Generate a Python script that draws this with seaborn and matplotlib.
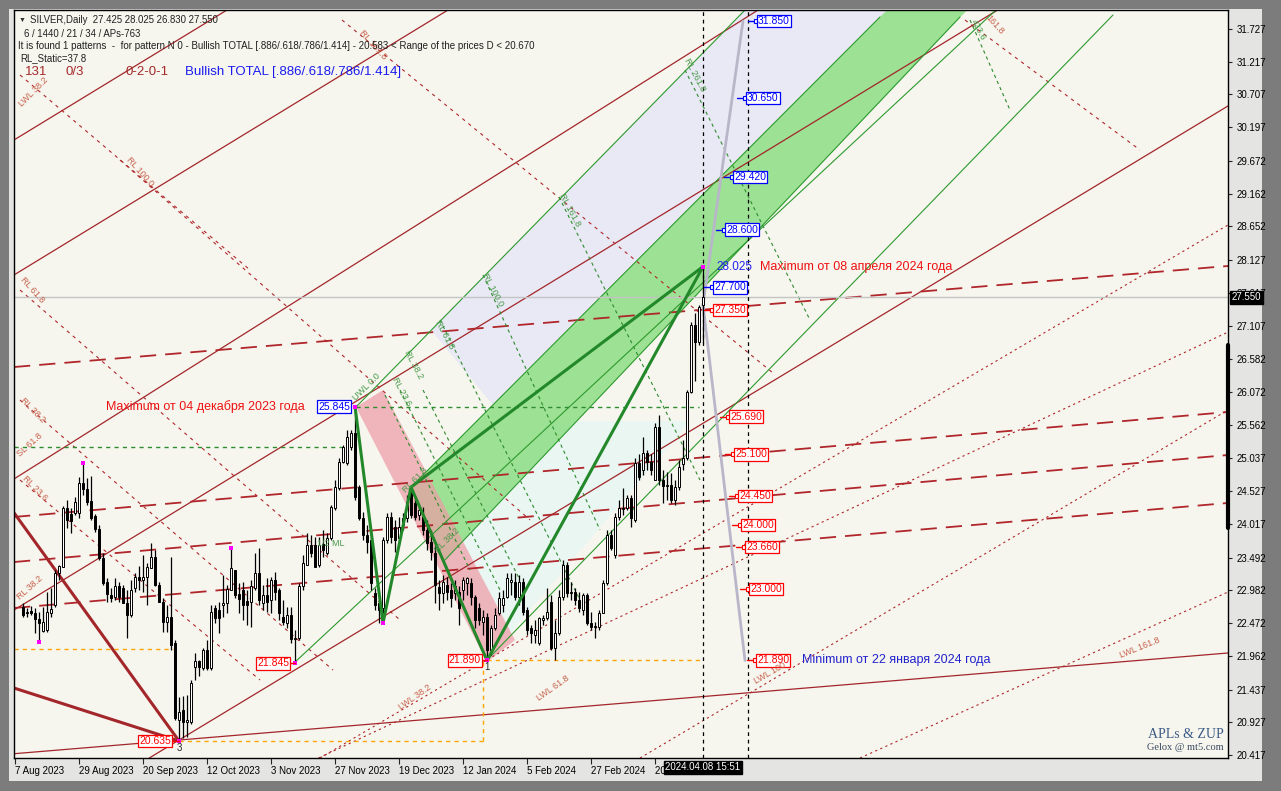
import numpy as np
import pandas as pd
import matplotlib
matplotlib.use("Agg")
import matplotlib.pyplot as plt
import matplotlib.transforms as mtransforms
from matplotlib.patches import Polygon, Rectangle
import seaborn as sns

# SILVER daily candles, bar index 0 .. 170 (last bar = 2024.04.08)
opens = [22.72, 22.65, 22.66, 22.63, 22.54, 22.35, 22.36, 22.63, 22.75, 23.25,
         23.35, 24.27, 24.17, 24.19, 24.19, 24.65, 24.56, 24.37, 24.14, 23.94,
         23.49, 23.11, 22.91, 22.88, 23.05, 23.02, 22.78, 22.60, 23.02, 23.19,
         23.14, 23.19, 23.33, 23.50, 23.06, 22.80, 22.49, 22.57, 22.16, 20.96,
         21.12, 20.93, 20.93, 21.79, 21.88, 21.77, 22.05, 21.77, 22.71, 22.68,
         22.75, 22.78, 22.99, 23.30, 22.93, 22.99, 22.82, 22.80, 23.02, 23.25,
         22.78, 22.91, 22.83, 23.14, 22.99, 22.57, 22.47, 22.60, 22.22, 22.24,
         23.05, 23.38, 23.69, 23.69, 23.38, 23.70, 23.56, 23.80, 24.27, 24.58,
         24.98, 24.97, 25.21, 25.43, 24.59, 24.11, 23.84, 23.77, 22.94, 22.78,
         22.71, 23.77, 24.13, 23.97, 23.80, 24.00, 24.11, 24.50, 24.34, 24.16,
         24.13, 23.92, 23.74, 23.56, 23.03, 22.94, 23.06, 22.99, 22.94, 22.96,
         22.99, 23.10, 23.10, 22.88, 22.71, 22.49, 22.57, 22.05, 22.40, 22.63,
         22.75, 22.88, 23.11, 23.11, 22.88, 23.11, 22.68, 22.40, 22.29, 22.16,
         22.52, 22.55, 22.80, 22.08, 22.32, 22.88, 23.38, 22.94, 22.96, 22.83,
         22.68, 22.91, 22.47, 22.41, 22.41, 22.63, 23.10, 23.84, 23.53, 24.13,
         24.25, 24.27, 24.42, 24.08, 24.97, 24.86, 25.12, 24.98, 24.70, 25.53,
         24.70, 24.61, 24.62, 24.39, 24.59, 24.95, 25.04, 26.07, 27.11, 26.85,
         27.425]
highs = [22.78, 22.71, 22.74, 22.71, 22.65, 22.72, 22.96, 23.02, 23.30, 23.38,
         24.30, 24.39, 24.27, 24.44, 24.75, 24.97, 24.73, 24.76, 24.17, 24.00,
         23.56, 23.17, 23.02, 23.17, 23.11, 23.06, 22.99, 23.14, 23.25, 23.36,
         23.53, 23.41, 23.72, 23.61, 23.11, 22.86, 22.75, 23.50, 22.21, 21.32,
         21.34, 21.35, 21.59, 22.01, 21.90, 22.08, 22.21, 22.75, 22.75, 22.80,
         23.22, 23.06, 23.64, 23.30, 23.10, 23.11, 22.99, 23.14, 23.56, 23.64,
         23.06, 23.17, 23.19, 23.27, 23.02, 22.83, 22.72, 22.72, 22.36, 23.10,
         23.53, 23.88, 23.84, 23.81, 23.81, 23.92, 23.88, 24.31, 24.70, 25.04,
         25.25, 25.48, 25.48, 25.845, 24.62, 24.20, 24.00, 23.81, 23.02, 22.83,
         23.81, 24.19, 24.20, 24.08, 24.13, 24.19, 24.47, 24.58, 24.44, 24.31,
         24.28, 24.08, 23.92, 23.69, 23.14, 23.22, 23.19, 23.10, 23.14, 23.05,
         23.19, 23.19, 23.17, 22.91, 22.78, 22.68, 22.63, 22.44, 22.71, 22.96,
         22.99, 23.25, 23.25, 23.25, 23.22, 23.17, 22.72, 22.44, 22.52, 22.57,
         22.60, 23.02, 22.91, 22.52, 22.99, 23.46, 23.42, 23.11, 23.02, 22.96,
         22.94, 22.94, 22.65, 22.49, 22.68, 23.14, 23.92, 23.92, 24.19, 24.39,
         24.58, 24.47, 24.47, 25.04, 25.10, 25.37, 25.17, 25.10, 25.59, 25.71,
         24.86, 24.83, 24.81, 24.70, 25.01, 25.32, 26.10, 27.16, 27.30, 27.43,
         28.025]
lows = [22.57, 22.57, 22.60, 22.32, 22.18, 22.33, 22.33, 22.57, 22.72, 23.14,
        23.35, 23.95, 23.88, 24.16, 24.11, 24.47, 24.31, 24.08, 23.89, 23.46,
        23.06, 22.80, 22.80, 22.83, 22.80, 22.78, 22.24, 22.57, 22.96, 22.99,
        22.96, 22.75, 23.33, 23.05, 22.80, 22.33, 22.33, 22.05, 20.96, 20.635,
        20.68, 20.70, 20.90, 21.59, 21.65, 21.74, 21.74, 21.74, 22.47, 22.32,
        22.57, 22.63, 22.99, 22.86, 22.63, 22.52, 22.44, 22.41, 22.99, 22.75,
        22.68, 22.65, 22.63, 22.83, 22.52, 22.44, 22.40, 22.16, 21.845, 22.21,
        22.99, 23.38, 23.50, 23.35, 23.35, 23.50, 23.53, 23.77, 24.23, 24.55,
        24.97, 24.94, 25.17, 24.39, 24.08, 23.77, 23.56, 22.99, 22.68, 22.47,
        22.47, 23.72, 23.72, 23.58, 23.69, 23.92, 24.05, 24.11, 24.08, 24.08,
        23.84, 23.61, 23.46, 22.78, 22.68, 22.78, 22.83, 22.72, 22.83, 22.44,
        22.83, 22.91, 22.75, 22.40, 22.44, 22.29, 21.89, 21.97, 22.36, 22.60,
        22.65, 22.86, 22.91, 22.83, 22.75, 22.60, 22.29, 22.16, 22.16, 22.13,
        22.44, 22.52, 22.05, 21.90, 22.29, 22.83, 22.88, 22.83, 22.75, 22.65,
        22.60, 22.44, 22.36, 22.24, 22.36, 22.63, 23.06, 23.61, 23.49, 24.08,
        24.16, 24.23, 23.97, 24.05, 24.70, 24.78, 24.86, 24.78, 24.70, 24.62,
        24.34, 24.39, 24.34, 24.31, 24.55, 24.86, 25.01, 26.06, 26.25, 26.80,
        26.83]
closes = [22.60, 22.63, 22.63, 22.54, 22.47, 22.49, 22.65, 22.69, 23.25, 23.36,
          24.27, 24.08, 24.06, 24.36, 24.65, 24.56, 24.36, 24.11, 23.94, 23.49,
          23.10, 22.93, 22.86, 23.05, 22.88, 22.78, 22.60, 22.99, 23.19, 23.14,
          23.19, 23.35, 23.50, 23.06, 22.80, 22.49, 22.57, 22.13, 20.99, 21.09,
          20.93, 20.96, 21.54, 21.88, 21.79, 22.05, 21.77, 22.65, 22.55, 22.55,
          22.78, 23.00, 23.33, 22.91, 22.85, 22.75, 22.75, 23.05, 23.25, 22.83,
          22.91, 22.80, 23.14, 22.96, 22.63, 22.49, 22.60, 22.22, 22.24, 23.05,
          23.41, 23.69, 23.56, 23.35, 23.69, 23.61, 23.80, 24.28, 24.59, 24.98,
          25.21, 25.37, 25.43, 24.44, 24.11, 23.84, 23.74, 23.10, 22.75, 22.68,
          23.77, 24.13, 23.81, 23.77, 23.97, 24.11, 24.36, 24.16, 24.13, 24.23,
          23.92, 23.72, 23.58, 23.06, 22.94, 23.11, 22.96, 22.86, 23.05, 22.71,
          23.14, 23.17, 22.88, 22.52, 22.52, 22.57, 22.05, 22.40, 22.60, 22.86,
          22.86, 23.17, 23.14, 22.88, 23.11, 22.65, 22.36, 22.32, 22.36, 22.55,
          22.55, 22.65, 22.08, 22.32, 22.88, 23.38, 22.94, 22.96, 22.83, 22.71,
          22.91, 22.47, 22.41, 22.43, 22.63, 23.10, 23.84, 23.64, 24.13, 24.27,
          24.27, 24.42, 24.11, 24.97, 24.75, 25.12, 24.98, 24.86, 25.53, 24.70,
          24.61, 24.62, 24.39, 24.59, 24.90, 25.04, 26.07, 27.11, 26.85, 27.40,
          27.55]

date_bars = [-2, 14, 30, 46, 62, 78, 94, 110, 126, 142, 158]
date_labels = ["7 Aug 2023", "29 Aug 2023", "20 Sep 2023", "12 Oct 2023", "3 Nov 2023",
               "27 Nov 2023", "19 Dec 2023", "12 Jan 2024", "5 Feb 2024", "27 Feb 2024",
               "20 Mar 2024"]
price_ticks = [31.727, 31.217, 30.707, 30.197, 29.672, 29.162, 28.652, 28.127, 27.617,
               27.107, 26.582, 26.072, 25.562, 25.037, 24.527, 24.017, 23.492, 22.982,
               22.472, 21.962, 21.437, 20.927, 20.417]

# ZUP pattern X-A-B-C-D (bar, price)
zz_bar = [83, 90, 97, 116, 170]
zz_price = [25.845, 22.47, 24.59, 21.89, 28.025]
bd_bar = [97, 170]
bd_price = [24.59, 28.025]

# pivots marked with magenta dots
piv_bar = [4, 15, 39, 52, 68, 83, 90, 116, 170]
piv_price = [22.18, 24.97, 20.635, 23.64, 21.845, 25.845, 22.47, 21.89, 28.025]

# channel / fan lines given as two anchors (bar, price)
red_solid = [((39, 20.65), (301.25, 30.528)),
             ((-2.25, 22.676), (228.5, 31.447)),
             ((-2.25, 24.717), (181, 31.914)),
             ((-2.25, 27.895), (106.25, 32.023)),
             ((-2.25, 29.998), (51, 32.023)),
             ((39, 20.65), (301.25, 22.006))]
red_long_dash = [((-2.25, 26.461), (301.25, 28.035)),
                 ((-2.25, 24.125), (301.25, 25.760)),
                 ((-2.25, 23.423), (301.25, 25.090)),
                 ((-2.25, 22.707), (301.25, 24.343))]
red_dotted = [((116, 21.897), (301.25, 28.674)),
              ((119.25, 21.694), (174.25, 23.299)),
              ((154.25, 20.370), (301.25, 25.792)),
              ((209.25, 20.370), (301.25, 22.956))]
red_rl = [((-0.75, 25.947), (77.5, 21.741)),
          ((-0.75, 27.661), (94.25, 22.520)),
          ((24.25, 29.686), (126.75, 24.078)),
          ((-0.75, 24.701), (59.25, 21.585)),
          ((79.75, 31.867), (187.5, 26.368)),
          ((235.5, 31.867), (279.25, 29.842)),
          ((-0.75, 31.011), (56.75, 27.973))]
green_rl = [((165.5, 31.088), (196.75, 27.194)),
            ((134, 29.110), (169.25, 24.701)),
            ((115, 27.895), (144.25, 23.922)),
            ((104.25, 27.194), (139.25, 22.832)),
            ((100, 26.103), (124.25, 23.143)),
            ((94.25, 26.103), (119.25, 22.987)),
            ((90.5, 26.025), (111.75, 23.299)),
            ((236.75, 31.867), (246.75, 30.465))]
# rays: start anchor -> end at top of chart
green_thin = [((67.75, 21.850), (243.25, 32.023)),
              ((116, 21.897), (272.5, 31.945)),
              ((83.25, 25.838), (180.5, 32.023)),
              ((96.75, 24.576), (214.25, 31.914)),
              ((105.5, 23.455), (234.25, 31.914))]

green_band = [(96.75, 24.576), (216.75, 32.07), (236.75, 32.07), (105.5, 23.455)]
lilac_band = [(102, 27.038), (181.25, 32.07), (216.75, 32.07), (117.5, 25.869)]
cyan_band = [(116, 21.897), (166.9, 25.62), (131.5, 25.62), (105.5, 23.455)]
pink_band = [(83.25, 25.838), (90, 26.103), (123, 22.208), (116, 21.866)]

# target / level boxes on the right
blue_levels = [31.85, 30.65, 29.42, 28.60, 27.70]
blue_box_bar = [183.75, 181.0, 177.75, 175.75, 172.75]
red_levels = [27.35, 25.69, 25.10, 24.45, 24.00, 23.66, 23.00, 21.89]
red_box_bar = [172.75, 176.75, 178.0, 179.0, 179.75, 180.75, 181.75, 183.5]

W, H = 1281, 791
sns.set_theme(style="white")
plt.rcParams["font.family"] = ["Liberation Sans", "DejaVu Sans"]

fig = plt.figure(figsize=(W / 100, H / 100), dpi=100, facecolor="#7c7c7c")
fig.patches.append(Rectangle((9 / W, 1 - 781 / H), (1262 - 9) / W, (781 - 9) / H,
                             transform=fig.transFigure, facecolor="#e4e4e2",
                             edgecolor="none", zorder=-10))
ax = fig.add_axes([14 / W, 1 - 758 / H, (1228 - 14) / W, (758 - 10) / H])
ax.set_zorder(2)
ax.set_facecolor("#f6f6ef")
ax.set_xlim(-2.25, 301.25)
ax.set_ylim(20.370, 32.023)

# shaded zones
for poly, col, a in [(lilac_band, "#e8e8f6", 0.9), (cyan_band, "#e6f6f4", 0.8),
                     (green_band, "#86dc7e", 0.8), (pink_band, "#ee9aa6", 0.7)]:
    ax.add_patch(Polygon(poly, closed=True, facecolor=col, edgecolor="none", alpha=a, zorder=1))

for p1, p2 in red_solid:
    ax.axline(p1, p2, color="#a3262a", lw=0.9, zorder=2)
for p1, p2 in red_long_dash:
    ax.axline(p1, p2, color="#b0262a", lw=1.3, dashes=(9, 5), zorder=2)
for p1, p2 in red_dotted:
    ax.axline(p1, p2, color="#b0262a", lw=0.8, dashes=(2, 3), zorder=2)
for p1, p2 in red_rl:
    ax.plot([p1[0], p2[0]], [p1[1], p2[1]], color="#b0262a", lw=0.8, dashes=(3, 4), zorder=2)
for p1, p2 in green_rl:
    ax.plot([p1[0], p2[0]], [p1[1], p2[1]], color="#2e8b2e", lw=0.8, dashes=(3, 3), zorder=2)
for p1, p2 in green_thin:
    ax.plot([p1[0], p2[0]], [p1[1], p2[1]], color="#2e9a2e", lw=0.8, zorder=2)

# thick fan lines into the September low
ax.plot([-2.25, 39], [24.19, 20.635], color="#a3262a", lw=2.2, zorder=2)
ax.plot([-2.25, 39], [21.46, 20.635], color="#a3262a", lw=2.2, zorder=2)

# level lines
ax.axhline(27.55, color="#c4c4c4", lw=1, zorder=2)
ax.hlines(21.89, 116, 170, color="#ffa500", lw=1, linestyles=(0, (3, 3)), zorder=2)
ax.hlines(20.635, 39, 115, color="#ffa500", lw=1, linestyles=(0, (3, 3)), zorder=2)
ax.vlines(115, 20.635, 21.89, color="#ffa500", lw=1, linestyles=(0, (3, 3)), zorder=2)
ax.hlines(22.068, -2.25, 37.5, color="#ffa500", lw=1, linestyles=(0, (3, 3)), zorder=2)
ax.hlines(25.215, -2.25, 80, color="#2e8b2e", lw=1, linestyles=(0, (3, 3)), zorder=2)
ax.hlines(25.845, 83.25, 169, color="#2e8b2e", lw=1, linestyles=(0, (3, 3)), zorder=2)
for vb in [170, 181.25]:
    ax.axvline(vb, color="black", lw=0.9, dashes=(3, 3), zorder=3)

# projection lines from the last bar
ax.plot([170, 180], [27.43, 31.85], color="#b8b6c8", lw=2, zorder=3)
ax.plot([170, 180.5], [27.43, 21.89], color="#b8b6c8", lw=2, zorder=3)

# candles
df = pd.DataFrame({"bar": np.arange(len(closes)), "open": opens, "high": highs,
                   "low": lows, "close": closes})
up = df["close"] >= df["open"]
ax.vlines(df["bar"], df["low"], df["high"], color="black", lw=0.9, zorder=4)
body = (df["close"] - df["open"]).abs().clip(lower=0.012)
ax.bar(df["bar"], body, bottom=df[["open", "close"]].min(axis=1), width=0.72,
       color=np.where(up, "white", "black"), edgecolor="black", linewidth=0.7, zorder=5)

# pattern
zz = pd.DataFrame({"bar": zz_bar, "price": zz_price})
sns.lineplot(data=zz, x="bar", y="price", sort=False, color="#22882a", lw=2.2, ax=ax, zorder=6)
bd = pd.DataFrame({"bar": bd_bar, "price": bd_price})
sns.lineplot(data=bd, x="bar", y="price", sort=False, color="#22882a", lw=2.2, ax=ax, zorder=6)
piv = pd.DataFrame({"bar": piv_bar, "price": piv_price})
sns.scatterplot(data=piv, x="bar", y="price", marker="s", s=8, color="#ff00ff",
                edgecolor="none", ax=ax, zorder=7)


def level_box(x, y, s, col, ha="left"):
    ax.text(x, y, s, ha=ha, va="center", color=col, fontsize=7.5, zorder=9,
            bbox=dict(boxstyle="square,pad=0.12", fc="white", ec=col, lw=0.9))


for lv, bx in zip(blue_levels, blue_box_bar):
    ax.plot([bx - 2.6, bx - 0.3], [lv, lv], color="blue", lw=1, zorder=8)
    ax.plot([bx - 0.4], [lv], marker="s", ms=2.5, mfc="white", mec="blue", mew=0.8, zorder=8)
    level_box(bx, lv, f"{lv:.3f}", "blue")
for lv, bx in zip(red_levels, red_box_bar):
    ax.plot([bx - 2.6, bx - 0.3], [lv, lv], color="red", lw=1, zorder=8)
    ax.plot([bx - 0.4], [lv], marker="s", ms=2.5, mfc="white", mec="red", mew=0.8, zorder=8)
    level_box(bx, lv, f"{lv:.3f}", "red")
level_box(81.75, 25.845, "25.845", "blue", ha="right")
level_box(66.5, 21.845, "21.845", "red", ha="right")
level_box(114.5, 21.89, "21.890", "red", ha="right")
level_box(37.0, 20.635, "20.635", "red", ha="right")
ax.plot([66.6, 68], [21.845, 21.845], color="red", lw=1, zorder=8)
ax.plot([114.6, 116], [21.89, 21.89], color="red", lw=1, zorder=8)
ax.plot([37.1, 39], [20.635, 20.635], color="red", lw=1, zorder=8)

ax.text(173.25, 28.02, "28.025", color="#2222ee", fontsize=8.5, va="center", zorder=9)
ax.text(184.25, 28.02, "Maximum от 08 апреля 2024 года", color="#ee1111", fontsize=9,
        va="center", zorder=9)
ax.text(70.5, 25.845, "Maximum от 04 декабря 2023 года", color="#ee1111", fontsize=9,
        va="center", ha="right", zorder=9)
ax.text(194.75, 21.89, "Minimum от 22 января 2024 года", color="#2222cc", fontsize=9,
        va="center", zorder=9)
ax.text(39, 20.53, "3", fontsize=7, ha="center", va="center", zorder=9)
ax.text(116, 21.78, "1", fontsize=7, ha="center", va="center", zorder=9)


def ptext(x, y, s, **kw):
    fig.text(x / W, 1 - y / H, s, zorder=5, **kw)


# fan / channel labels
for s, x, y, r in [("LWL 38.2", 33, 92, 45), ("RL 100.0", 140, 172, -48), ("RL 61.8", 32, 290, -48),
                   ("RL 38.2", 33, 410, -45), ("SL 61.8", 30, 445, 42), ("RL 23.6", 35, 488, -45),
                   ("RL 38.2", 30, 588, 42), ("RL 161.8", 373, 45, -48), ("161.8", 995, 25, -48),
                   ("LWL 38.2", 415, 697, 35), ("LWL 61.8", 553, 688, 35), ("LWL 100", 770, 673, 30),
                   ("LWL 161.8", 1140, 648, 22)]:
    ptext(x, y, s, color="#c8604a", fontsize=6.5, rotation=r, ha="center", va="center")
for s, x, y, r in [("RL 100.0", 493, 290, -62), ("RL 161.8", 570, 210, -62), ("RL 261.8", 695, 75, -62),
                   ("423.6", 978, 30, -62), ("RL 61.8", 445, 335, -62), ("RL 38.2", 414, 365, -62),
                   ("RL 23.6", 402, 392, -62), ("UWL 0.0", 367, 387, 45), ("RL 61.8", 415, 480, 45),
                   ("RL 38.2", 447, 540, 45), ("1/2 ML", 331, 543, 0)]:
    ptext(x, y, s, color="#4a9a4a", fontsize=6.5, rotation=r, ha="center", va="center")

# header block
ptext(19, 20, "\u25bc", fontsize=5, color="#303030", va="center")
ptext(30, 20, "SILVER,Daily  27.425 28.025 26.830 27.550", fontsize=6.9, color="#202020", va="center")
ptext(24, 34, "6 / 1440 / 21 / 34 / APs-763", fontsize=6.9, color="#202020", va="center")
ptext(18, 46, "It is found 1 patterns  -  for pattern N 0 - Bullish TOTAL [.886/.618/.786/1.414] - "
      "20.583 < Range of the prices D < 20.670", fontsize=7, color="#202020", va="center")
ptext(20, 58, "RL_Static=37.8", fontsize=6.9, color="#202020", va="center")
ptext(25, 72, "131", fontsize=9.5, color="#a52a2a", va="center")
ptext(65, 72, "0/3", fontsize=9.5, color="#a52a2a", va="center")
ptext(125, 72, "0-2-0-1", fontsize=9.5, color="#a52a2a", va="center")
ptext(185, 72, "Bullish TOTAL [.886/.618/.786/1.414]", fontsize=9.5, color="#1a1aee", va="center")
ptext(1186, 735, "APLs & ZUP", fontsize=10, color="#3b5a84", ha="center", va="center",
      family=["Liberation Serif", "DejaVu Serif"])
ptext(1185, 748, "Gelox @ mt5.com", fontsize=7.5, color="#3b4a60", ha="center", va="center",
      family=["Liberation Serif", "DejaVu Serif"])

# axes
ax.yaxis.tick_right()
ax.set_yticks(price_ticks)
ax.set_yticklabels([f"{v:.3f}" for v in price_ticks], fontsize=7, color="black")
ax.tick_params(axis="y", direction="out", length=3, width=0.8, pad=3, right=True, left=False)
ax.set_xticks(date_bars)
ax.set_xticklabels(date_labels, fontsize=7, color="black")
for lbl in ax.get_xticklabels():
    lbl.set_horizontalalignment("left")
ax.tick_params(axis="x", direction="out", length=4, width=0.8, pad=2, bottom=True)
ax.set_xlabel("")
ax.set_ylabel("")
for sp in ax.spines.values():
    sp.set_color("black")
    sp.set_linewidth(1)

ty = mtransforms.blended_transform_factory(ax.transAxes, ax.transData)
ax.plot([1, 1], [23.95, 26.80], transform=ty, color="black", lw=3, clip_on=False, zorder=10)
ax.text(1.003, 27.55, "27.550", transform=ty, ha="left", va="center", color="white",
        fontsize=7, zorder=11, clip_on=False,
        bbox=dict(boxstyle="square,pad=0.15", fc="black", ec="black"))
tx = mtransforms.blended_transform_factory(ax.transData, ax.transAxes)
ax.text(170, -0.006, "2024.04.08 15:51", transform=tx, ha="center", va="top", color="white",
        fontsize=7, zorder=11, clip_on=False,
        bbox=dict(boxstyle="square,pad=0.15", fc="black", ec="black"))

fig.savefig("out.png", dpi=100, facecolor=fig.get_facecolor())
